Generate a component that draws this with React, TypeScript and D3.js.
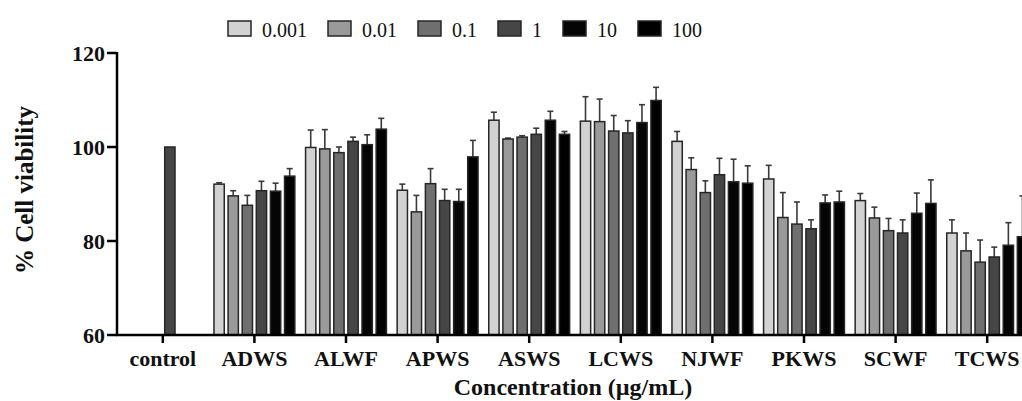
import React, { useMemo } from "react";
import * as d3 from "d3";

const categories = ["control", "ADWS", "ALWF", "APWS", "ASWS", "LCWS", "NJWF", "PKWS", "SCWF", "TCWS"];
const seriesNames = ["0.001", "0.01", "0.1", "1", "10", "100"];
const seriesColors = ["#d2d2d2", "#9a9a9a", "#6f6f6f", "#464646", "#050505", "#000000"];

// means per series (one value per category; null = no bar)
const v0001 = [null, 92.1, 99.9, 90.8, 105.7, 105.5, 101.2, 93.2, 88.6, 81.7];
const v001 = [null, 89.6, 99.6, 86.2, 101.7, 105.4, 95.2, 85.0, 84.9, 77.9];
const v01 = [null, 87.6, 98.8, 92.2, 102.1, 103.4, 90.3, 83.6, 82.2, 75.5];
const v1 = [100, 90.7, 101.2, 88.6, 102.7, 103.0, 94.1, 82.6, 81.7, 76.6];
const v10 = [null, 90.6, 100.5, 88.4, 105.7, 105.2, 92.6, 88.1, 85.9, 79.1];
const v100 = [null, 93.8, 103.8, 97.9, 102.7, 109.9, 92.3, 88.3, 88.0, 80.9];

// upward error (SD) per series
const e0001 = [null, 0.3, 3.7, 1.3, 1.7, 5.2, 2.1, 2.9, 1.5, 2.8];
const e001 = [null, 1.1, 4.1, 3.5, 0.2, 4.8, 2.5, 5.3, 2.3, 3.8];
const e01 = [null, 2.1, 1.2, 3.2, 0.3, 3.3, 2.5, 4.7, 2.6, 4.7];
const e1 = [null, 2.0, 0.9, 2.4, 1.3, 2.6, 3.5, 1.9, 2.8, 2.1];
const e10 = [null, 1.7, 2.1, 2.6, 1.9, 3.8, 4.8, 1.7, 4.3, 4.8];
const e100 = [null, 1.6, 2.3, 3.5, 0.6, 2.8, 3.7, 2.3, 5.0, 8.7];

const yTicks = [60, 80, 100, 120];

const seriesValues = [v0001, v001, v01, v1, v10, v100];
const seriesErrors = [e0001, e001, e01, e1, e10, e100];

const W = 1022;
const H = 401;
const FONT = "'Liberation Serif', 'Times New Roman', serif";

export default function App() {
  const x0 = d3.scaleBand<string>().domain(categories).range([117, 1033]).padding(0);
  const x1 = d3
    .scaleBand<string>()
    .domain(seriesNames)
    .range([0, x0.bandwidth()])
    .paddingInner(0.27)
    .paddingOuter(0.38);
  const y = d3.scaleLinear().domain([60, 120]).range([335, 53]);

  const legendLayout = useMemo(() => {
    let widths: number[];
    try {
      const c = document.createElement("canvas").getContext("2d")!;
      c.font = `20px ${FONT}`;
      widths = seriesNames.map((s) => c.measureText(s).width);
    } catch {
      widths = seriesNames.map((s) => s.length * 10);
    }
    const out: number[] = [];
    let cx = 228;
    widths.forEach((w) => {
      out.push(cx);
      cx += 34 + w + 21;
    });
    return out;
  }, []);

  const bars: React.ReactNode[] = [];
  const errs: React.ReactNode[] = [];
  categories.forEach((cat, ci) => {
    seriesNames.forEach((s, si) => {
      const v = seriesValues[si][ci];
      if (v == null) return;
      const bx = (x0(cat) as number) + (x1(s) as number);
      const bw = x1.bandwidth();
      bars.push(
        <rect
          key={`b-${ci}-${si}`}
          x={bx}
          y={y(v)}
          width={bw}
          height={y(60) - y(v)}
          fill={seriesColors[si]}
          stroke="#262626"
          strokeWidth={1.5}
        />
      );
      const e = seriesErrors[si][ci];
      if (e != null && e > 0) {
        const cx = bx + bw / 2;
        errs.push(
          <g key={`e-${ci}-${si}`} stroke="#3a3a3a" strokeWidth={1.6}>
            <line x1={cx} x2={cx} y1={y(v)} y2={y(v + e)} />
            <line x1={cx - 3} x2={cx + 3} y1={y(v + e)} y2={y(v + e)} />
          </g>
        );
      }
    });
  });

  return (
    <svg
      width={W}
      height={H}
      style={{ position: "absolute", left: 0, top: 0, background: "#fff" }}
      fontFamily={FONT}
    >
      <rect width={W} height={H} fill="#fff" />
      {/* legend */}
      {seriesNames.map((s, i) => (
        <g key={`lg-${s}`}>
          <rect
            x={legendLayout[i]}
            y={21}
            width={23}
            height={15}
            fill={seriesColors[i]}
            stroke="#262626"
            strokeWidth={1.5}
          />
          <text x={legendLayout[i] + 34} y={36.5} fontSize={20} fill="#111">
            {s}
          </text>
        </g>
      ))}
      {/* bars */}
      {errs}
      {bars}
      {/* y axis */}
      <line x1={117} x2={117} y1={y(120) - 1} y2={y(60) + 1} stroke="#000" strokeWidth={2.5} />
      {yTicks.map((t) => (
        <g key={`yt-${t}`}>
          <line x1={107} x2={117} y1={y(t)} y2={y(t)} stroke="#000" strokeWidth={2.5} />
          <text
            x={105}
            y={y(t)}
            dy="0.35em"
            textAnchor="end"
            fontSize={22}
            fontWeight="bold"
            fill="#111"
          >
            {t}
          </text>
        </g>
      ))}
      {/* x axis */}
      <line x1={116} x2={W} y1={y(60)} y2={y(60)} stroke="#000" strokeWidth={2.5} />
      {categories.map((c) => {
        const cx = (x0(c) as number) + x0.bandwidth() / 2;
        return (
          <g key={`xt-${c}`}>
            <line x1={cx} x2={cx} y1={y(60)} y2={y(60) + 8} stroke="#000" strokeWidth={2.5} />
            <text x={cx} y={365.5} textAnchor="middle" fontSize={22} fontWeight="bold" fill="#111">
              {c}
            </text>
          </g>
        );
      })}
      {/* titles */}
      <text x={573} y={395} textAnchor="middle" fontSize={24} fontWeight="bold" fill="#111">
        Concentration (µg/mL)
      </text>
      <text
        transform="translate(33,190) rotate(-90)"
        textAnchor="middle"
        fontSize={25}
        fontWeight="bold"
        fill="#111"
      >
        % Cell viability
      </text>
    </svg>
  );
}
